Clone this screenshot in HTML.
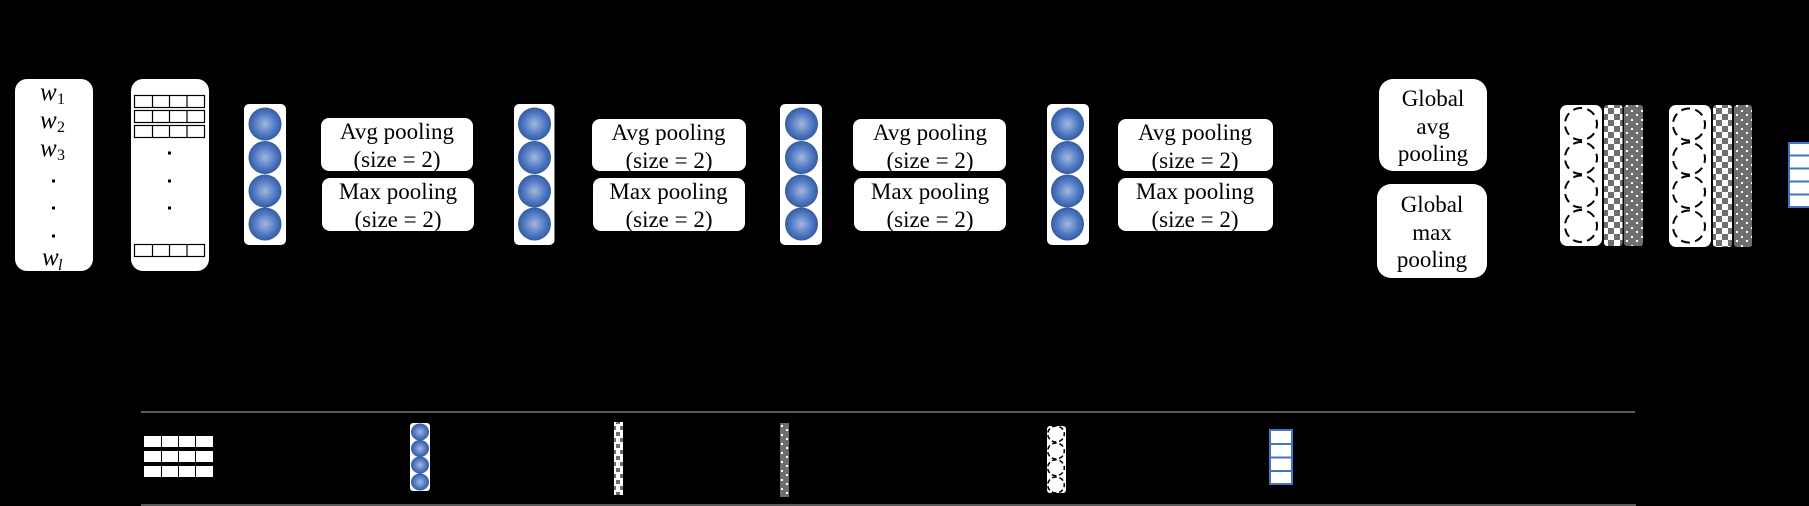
<!DOCTYPE html>
<html><head><meta charset="utf-8"><style>
html,body{margin:0;padding:0;background:#000;width:1809px;height:506px;overflow:hidden}
svg{display:block}
text{font-family:"Liberation Serif",serif;font-size:23px;fill:#000;text-anchor:middle}
text.m{font-style:italic;font-size:25px;text-anchor:start}
text.s{font-size:16px;text-anchor:start}
</style></head><body>
<svg width="1809" height="506" viewBox="0 0 1809 506" xmlns="http://www.w3.org/2000/svg">
<defs>
<radialGradient id="b"><stop offset="0" stop-color="#a3b8dd"/><stop offset=".65" stop-color="#4f79c4"/><stop offset=".93" stop-color="#3b62a8"/><stop offset="1" stop-color="#2f5597"/></radialGradient>
<pattern id="ck" width="12" height="12" patternUnits="userSpaceOnUse"><rect width="12" height="12" fill="#fff"/><rect width="6" height="6" fill="#6e6e6e"/><rect x="6" y="6" width="6" height="6" fill="#6e6e6e"/></pattern>
<pattern id="ck2" width="8" height="12" patternUnits="userSpaceOnUse"><rect width="8" height="12" fill="#fff"/><rect width="4" height="4" fill="#6e6e6e"/><rect x="4" y="6" width="4" height="4" fill="#6e6e6e"/></pattern>
<pattern id="gr" width="10" height="9" patternUnits="userSpaceOnUse"><rect width="10" height="9" fill="#6e6e6e"/><rect x="1" y="2" width="2" height="2" fill="#fff"/><rect x="6" y="6" width="2" height="2" fill="#fff"/></pattern>
<g id="conv"><circle cy="0" r="16.5" fill="url(#b)"/><circle cy="33.5" r="16.5" fill="url(#b)"/><circle cy="67" r="16.5" fill="url(#b)"/><circle cy="100" r="16.5" fill="url(#b)"/></g>
<g id="dash" fill="none" stroke="#000" stroke-width="2" stroke-dasharray="9 5.36" stroke-dashoffset="4.500"><circle cy="0" r="16"/><circle cy="34" r="16"/><circle cy="67.500" r="16"/><circle cy="102" r="16"/></g>
<g id="dash2" fill="none" stroke="#000" stroke-width="3" stroke-dasharray="9 5.36" stroke-dashoffset="4.500"><circle cy="0" r="16"/><circle cy="34" r="16"/><circle cy="67.500" r="16"/><circle cy="102" r="16"/></g>
<g id="row" fill="none" stroke="#000" stroke-width="1.2"><rect x="0" y="0" width="70" height="12"/><path d="M18 0v12M35 0v12M52.500 0v12"/></g>
<clipPath id="lc"><rect x="1047" y="426" width="19" height="67" rx="3"/></clipPath>
</defs>
<rect width="1809" height="506" fill="#000"/>

<rect x="15" y="79" width="78" height="192" rx="12" fill="#fff"/>
<text class="m" x="40" y="100">w</text><text class="s" x="57" y="104">1</text>
<text class="m" x="40" y="128">w</text><text class="s" x="57" y="132">2</text>
<text class="m" x="40" y="156">w</text><text class="s" x="57" y="160">3</text>
<text class="m" x="42" y="265">w</text><text class="s" x="58" y="270" font-style="italic">l</text>
<g fill="#000"><rect x="52" y="179.500" width="3" height="3"/><rect x="52" y="206.500" width="3" height="3"/><rect x="52" y="234.500" width="3" height="3"/></g>

<rect x="131" y="79" width="78" height="192" rx="12" fill="#fff"/>
<use href="#row" x="134.500" y="95.500"/><use href="#row" x="134.500" y="110.500"/><use href="#row" x="134.500" y="125.500"/><use href="#row" x="134.500" y="244.500"/>
<g fill="#000"><rect x="168" y="151.500" width="3" height="3"/><rect x="168" y="179.500" width="3" height="3"/><rect x="168" y="206.500" width="3" height="3"/></g>

<rect x="244" y="104" width="42" height="141" rx="5" fill="#fff"/><use href="#conv" x="265" y="124"/>
<rect x="514" y="104" width="40.500" height="141" rx="5" fill="#fff"/><use href="#conv" x="534.500" y="124"/>
<rect x="780" y="104" width="42" height="141" rx="5" fill="#fff"/><use href="#conv" x="801.500" y="124"/>
<rect x="1047" y="104" width="42" height="141" rx="5" fill="#fff"/><use href="#conv" x="1067.500" y="124"/>

<rect x="321" y="118" width="152" height="53" rx="8" fill="#fff"/><rect x="322" y="178" width="152" height="53" rx="8" fill="#fff"/>
<text x="397" y="139">Avg pooling</text><text x="397" y="167">(size = 2)</text><text x="398" y="199">Max pooling</text><text x="398" y="227">(size = 2)</text>

<rect x="592" y="119" width="154" height="52" rx="8" fill="#fff"/><rect x="593" y="178" width="152" height="53" rx="8" fill="#fff"/>
<text x="668.500" y="140">Avg pooling</text><text x="669" y="168">(size = 2)</text><text x="668.500" y="199">Max pooling</text><text x="669" y="227">(size = 2)</text>

<rect x="853" y="119" width="153" height="52" rx="8" fill="#fff"/><rect x="854" y="178" width="152" height="53" rx="8" fill="#fff"/>
<text x="930" y="140">Avg pooling</text><text x="930" y="168">(size = 2)</text><text x="930" y="199">Max pooling</text><text x="930" y="227">(size = 2)</text>

<rect x="1118" y="119" width="155" height="52" rx="8" fill="#fff"/><rect x="1118" y="178" width="155" height="53" rx="8" fill="#fff"/>
<text x="1195" y="140">Avg pooling</text><text x="1195" y="168">(size = 2)</text><text x="1195" y="199">Max pooling</text><text x="1195" y="227">(size = 2)</text>

<rect x="1379" y="79" width="108" height="92" rx="14" fill="#fff"/>
<text x="1433" y="106">Global</text><text x="1433" y="134">avg</text><text x="1433" y="161">pooling</text>
<rect x="1377" y="184" width="110" height="94" rx="14" fill="#fff"/>
<text x="1432" y="212">Global</text><text x="1432" y="240">max</text><text x="1432" y="267">pooling</text>

<rect x="1560" y="105" width="42" height="141" rx="7" fill="#fff"/><use href="#dash" x="1581" y="124"/>
<rect x="1604" y="105" width="18.500" height="141" rx="3" fill="url(#ck)"/>
<rect x="1624" y="105" width="19" height="141" rx="3" fill="url(#gr)"/>
<rect x="1669" y="105" width="42" height="142" rx="7" fill="#fff"/><use href="#dash" x="1689" y="124.500"/>
<rect x="1713" y="105" width="19" height="142" rx="3" fill="url(#ck)"/>
<rect x="1734" y="105" width="18" height="142" rx="3" fill="url(#gr)"/>

<rect x="1789" y="143" width="22" height="64" fill="#fff" stroke="#4472c4" stroke-width="2"/>
<path d="M1788 155.500H1809M1788 168.500H1809M1788 181.500H1809M1788 194.500H1809" stroke="#4472c4" stroke-width="2"/>

<rect x="141" y="411" width="1494" height="2" fill="#595959"/>
<rect x="141" y="504" width="1495" height="2" fill="#595959"/>

<g fill="#fff">
<rect x="144" y="436" width="17" height="11"/><rect x="162" y="436" width="16" height="11"/><rect x="179" y="436" width="16" height="11"/><rect x="196" y="436" width="17" height="11"/>
<rect x="144" y="451" width="17" height="11"/><rect x="162" y="451" width="16" height="11"/><rect x="179" y="451" width="16" height="11"/><rect x="196" y="451" width="17" height="11"/>
<rect x="144" y="466" width="17" height="11"/><rect x="162" y="466" width="16" height="11"/><rect x="179" y="466" width="16" height="11"/><rect x="196" y="466" width="17" height="11"/>
</g>

<rect x="410" y="423" width="20" height="68" rx="3" fill="#fff"/>
<ellipse cx="420" cy="432" rx="9" ry="8.500" fill="url(#b)"/><ellipse cx="420" cy="448.500" rx="9" ry="8.500" fill="url(#b)"/><ellipse cx="420" cy="465" rx="9" ry="8.500" fill="url(#b)"/><ellipse cx="420" cy="482" rx="9" ry="8.500" fill="url(#b)"/>

<rect x="614" y="422" width="9" height="73" fill="url(#ck2)"/>
<rect x="780" y="423" width="9" height="74" fill="url(#gr)"/>

<rect x="1047" y="426" width="19" height="67" rx="3" fill="#fff"/>
<g clip-path="url(#lc)"><use href="#dash2" transform="translate(1056 434) scale(.52 .5)"/></g>

<rect x="1270" y="430" width="22" height="54" fill="#fff" stroke="#4472c4" stroke-width="2"/>
<path d="M1269 444H1293M1269 457.500H1293M1269 471H1293" stroke="#4472c4" stroke-width="2"/>
</svg>
</body></html>
